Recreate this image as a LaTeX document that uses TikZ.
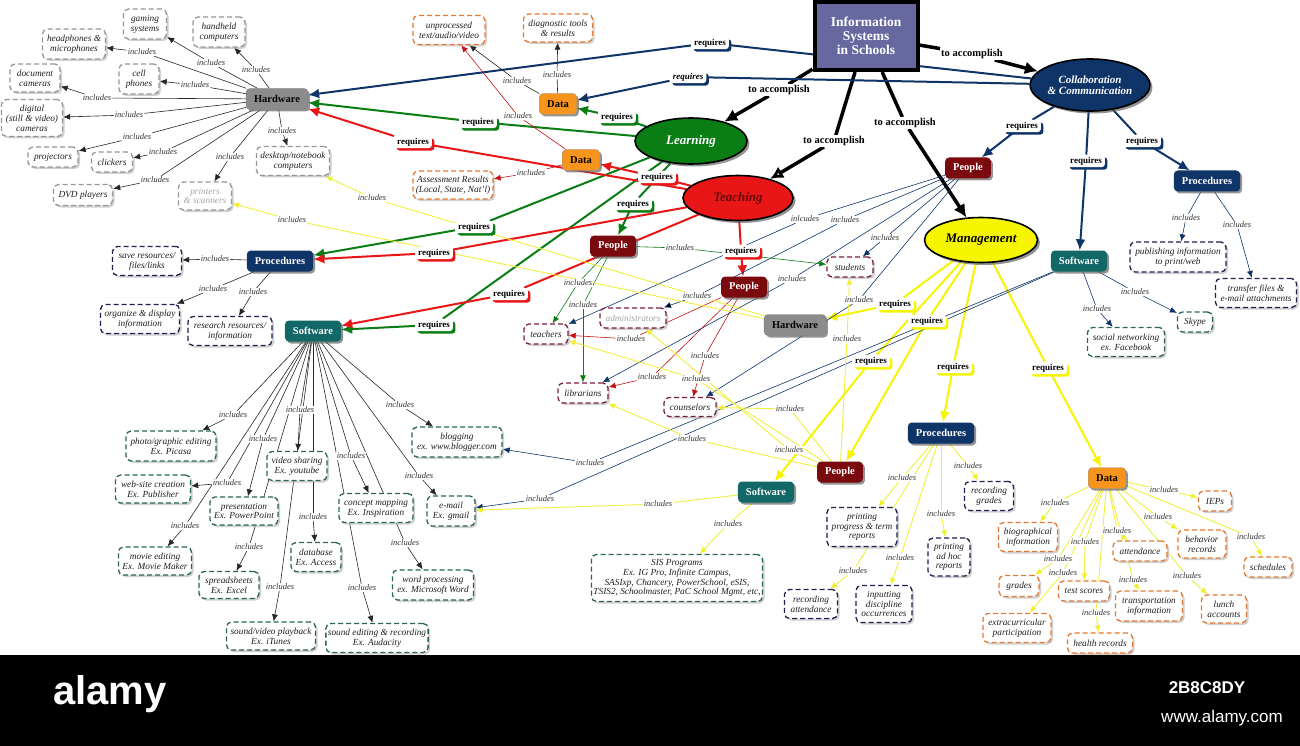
\documentclass[tikz,border=0pt]{standalone}
\usepackage{fontspec}
\setmainfont{Liberation Serif}
\setsansfont{Liberation Sans}
\usetikzlibrary{shapes.geometric,shadows,arrows.meta}
\pgfdeclarelayer{bg}
\pgfsetlayers{bg,main}
\definecolor{cnavy}{RGB}{14,52,104}
\definecolor{cmain}{RGB}{104,104,160}
\definecolor{cpeople}{RGB}{122,10,14}
\definecolor{cteal}{RGB}{18,104,102}
\definecolor{chw}{RGB}{140,140,140}
\definecolor{cdata}{RGB}{247,148,29}
\definecolor{cgreen}{RGB}{10,125,20}
\definecolor{cred}{RGB}{232,22,22}
\definecolor{cyel}{RGB}{245,245,0}
\definecolor{cyelt}{RGB}{240,240,60}
\definecolor{lgray}{RGB}{150,150,150}
\definecolor{lorange}{RGB}{226,120,50}
\definecolor{lnavy}{RGB}{30,32,80}
\definecolor{lteal}{RGB}{40,100,88}
\definecolor{lmar}{RGB}{120,30,60}
\newcommand\fsz[2]{\fontsize{#1}{#2}\selectfont}
\newcounter{lk}
\newcommand\lnk[7]{%
  \stepcounter{lk}%
  \node[#2] (L\thelk) at (#4,#5) {#7};%
  \begin{pgfonlayer}{bg}%
    \draw[#1,-] (#3) -- (L\thelk);%
    \draw[#1] (L\thelk) -- (#6);%
  \end{pgfonlayer}}
\newcommand\lf[7]{\node[leaf,#6,minimum width=#4,minimum height=#5] (#1) at (#2,#3) {#7};}
\tikzset{
  il/.style={fill=white, inner sep=1pt, font=\fsz{8.5}{9}\itshape, text=black!80},
  rq/.style={fill=white, rounded corners=3pt, inner xsep=3pt, inner ysep=2pt, font=\fsz{9}{10}\bfseries, text=black},
  rqn/.style={rq, general shadow={fill=cnavy, shadow xshift=2.5pt, shadow yshift=-2.5pt}},
  rqg/.style={rq, general shadow={fill=cgreen, shadow xshift=2.5pt, shadow yshift=-2.5pt}},
  rqr/.style={rq, general shadow={fill=cred, shadow xshift=2.5pt, shadow yshift=-2.5pt}},
  rqy/.style={rq, general shadow={fill=cyel, shadow xshift=2.5pt, shadow yshift=-2.5pt}},
  acl/.style={fill=white, inner sep=1pt, font=\fsz{10.5}{11}\bfseries, text=black},
  lblk/.style={draw=black!85, line width=0.6pt, -{Latex[length=7pt,width=6pt]}},
  lnav/.style={draw=cnavy, line width=0.6pt, -{Latex[length=7pt,width=6pt]}},
  lred/.style={draw=cred!85!black, line width=0.6pt, -{Latex[length=7pt,width=6pt]}},
  lgrn/.style={draw=cgreen, line width=0.6pt, -{Latex[length=7pt,width=6pt]}},
  lyel/.style={draw=cyelt, line width=0.9pt, -{Latex[length=7pt,width=6pt,fill=cyel]}},
  rnav/.style={draw=cnavy, line width=2pt, -{Latex[length=11pt,width=10pt]}},
  rgrn/.style={draw=cgreen, line width=2pt, -{Latex[length=11pt,width=10pt]}},
  rred/.style={draw=cred, line width=2pt, -{Latex[length=11pt,width=10pt]}},
  ryel/.style={draw=cyel, line width=2pt, -{Latex[length=11pt,width=10pt]}},
  lacc/.style={draw=black, line width=3.5pt, -{Latex[length=13pt,width=13pt]}},
  laccg/.style={lacc, -{Latex[length=13pt,width=13pt,fill=black!35]}},
  cat/.style={rounded corners=4pt, minimum height=21pt, inner xsep=8pt, inner ysep=2pt,
    font=\fsz{10.5}{11}\bfseries, drop shadow={shadow xshift=2pt, shadow yshift=-2pt, fill=black!60, opacity=.7}},
  cathw/.style={cat, fill=chw, text=black, draw=black!50, line width=.4pt},
  catdata/.style={cat, fill=cdata, text=black, draw=black!40, line width=.4pt},
  catnav/.style={cat, fill=cnavy, text=white},
  catteal/.style={cat, fill=cteal, text=white},
  catppl/.style={cat, fill=cpeople, text=white},
  ell/.style={ellipse, draw=black, line width=1.6pt, inner sep=0pt, align=center,
    drop shadow={shadow xshift=2.5pt, shadow yshift=-2.5pt, fill=black!60, opacity=.7}},
  leaf/.style={rounded corners=5pt, draw, dash pattern=on 5pt off 3pt, line width=1.3pt, fill=white,
    align=center, inner sep=2pt, font=\fsz{9.3}{9.9}\itshape, text=black!88,
    drop shadow={shadow xshift=2pt, shadow yshift=-2pt, fill=black!30, opacity=.6}},
  lfg/.style={draw=lgray},
  lfo/.style={draw=lorange},
  lfn/.style={draw=lnavy},
  lft/.style={draw=lteal},
  lfm/.style={draw=lmar},
  fade/.style={text=black!35}
}
\begin{document}
\begin{tikzpicture}[x=1pt,y=-1pt]
\useasboundingbox (0,0) rectangle (1300,746);
\begin{pgfonlayer}{bg}
\fill[white] (0,0) rectangle (1300,655);
\end{pgfonlayer}

% ---------- main concepts ----------
\node[draw=black, line width=4pt, fill=cmain, minimum width=103, minimum height=68, text=white,
  font=\fsz{13.5}{14}\bfseries, align=center] (main) at (866,36) {Information\\Systems\\in Schools};
\node[ell, fill=cnavy, text=white, minimum width=110, minimum height=52, font=\fsz{11}{11.5}\bfseries\itshape]
  (collab) at (1090,85) {Collaboration\\\& Communication};
\node[ell, fill=cgreen, text=white, minimum width=112, minimum height=46, font=\fsz{13}{14}\bfseries\itshape]
  (learn) at (691,141) {Learning};
\node[ell, fill=cred, text={rgb,255:red,100;green,10;blue,10}, minimum width=110, minimum height=45, font=\fsz{13}{14}\bfseries\itshape]
  (teach) at (738,198) {Teaching};
\node[ell, fill=cyel, text=black, minimum width=113, minimum height=45, font=\fsz{13}{14}\bfseries\itshape]
  (manage) at (981,240) {Management};

% ---------- category boxes ----------
\node[cathw] (hwL) at (277,99) {Hardware};
\node[catdata] (dataT) at (558,104) {Data};
\node[catdata] (dataM) at (581,160) {Data};
\node[catnav] (procL) at (280,261) {Procedures};
\node[catteal] (softL) at (313,331) {Software};
\node[catppl] (peopleM) at (613,246) {People};
\node[catppl] (peopleT) at (744,287) {People};
\node[catppl] (peopleC) at (968,168) {People};
\node[catnav] (procC) at (1207,181) {Procedures};
\node[catteal] (softC) at (1079,261) {Software};
\node[cathw] (hwM) at (795,325) {Hardware};
\node[catnav] (procB) at (941,433) {Procedures};
\node[catppl] (peopleB) at (840,472) {People};
\node[catteal] (softB) at (766,492) {Software};
\node[catdata] (dataB) at (1107,478) {Data};

% ---------- leaves: hardware ----------
\lf{hp}{74}{44}{63}{30}{lfg}{headphones \&\\microphones}
\lf{gs}{145}{24}{43}{30}{lfg}{gaming\\systems}
\lf{hh}{219}{32}{52}{30}{lfg}{handheld\\computers}
\lf{dc}{35}{78}{50}{28}{lfg}{document\\cameras}
\lf{cp}{139}{79}{40}{30}{lfg}{cell\\phones}
\lf{dg}{32}{118}{61}{37}{lfg}{digital\\(still \& video)\\cameras}
\lf{pj}{53}{157}{50}{20}{lfg}{projectors}
\lf{ck}{112}{162}{41}{20}{lfg}{clickers}
\lf{dvd}{83}{195}{59}{21}{lfg}{DVD players}
\lf{ps}{205}{196}{53}{28}{lfg,fade}{printers\\\& scanners}
\lf{dn}{293}{161}{73}{29}{lfg}{desktop/notebook\\computers}
% data
\lf{un}{449}{30}{72}{29}{lfo}{unprocessed\\text/audio/video}
\lf{dt}{558}{28}{69}{28}{lfo}{diagnostic tools\\\& results}
\lf{ar}{453}{185}{80}{28}{lfo}{Assessment Results\\(Local, State, Nat'l)}
% procedures left
\lf{sv}{147}{261}{69}{29}{lfn}{save resources/\\files/links}
\lf{od}{140}{319}{79}{29}{lfn}{organize \& display\\information}
\lf{rr}{230}{331}{84}{29}{lfn}{research resources/\\information}
% software left
\lf{pg}{171}{446}{90}{30}{lft}{photo/graphic editing\\Ex. Picasa}
\lf{bl}{457}{442}{90}{30}{lft}{blogging\\ex. www.blogger.com}
\lf{vs}{297}{466}{60}{29}{lft}{video sharing\\Ex. youtube}
\lf{wc}{153}{489}{75}{28}{lft}{web-site creation\\Ex. Publisher}
\lf{pr}{244}{511}{68}{28}{lft}{presentation\\Ex. PowerPoint}
\lf{cm}{376}{508}{74}{29}{lft}{concept mapping\\Ex. Inspiration}
\lf{em}{451}{511}{48}{30}{lft}{e-mail\\Ex. gmail}
\lf{me}{155}{561}{73}{28}{lft}{movie editing\\Ex. Movie Maker}
\lf{db}{316}{557}{50}{29}{lft}{database\\Ex. Access}
\lf{ss}{229}{585}{60}{27}{lft}{spreadsheets\\Ex. Excel}
\lf{wp}{433}{585}{81}{30}{lft}{word processing\\ex. Microsoft Word}
\lf{svp}{271}{636}{89}{28}{lft}{sound/video playback\\Ex. iTunes}
\lf{se}{377}{638}{102}{29}{lft}{sound editing \& recording\\Ex. Audacity}
% people
\lf{te}{546}{334}{44}{20}{lfm}{teachers}
\lf{li}{583}{393}{50}{20}{lfm}{librarians}
\lf{ad}{633}{318}{66}{20}{lfm,fade}{administrators}
\lf{co}{690}{407}{52}{19}{lfm}{counselors}
\lf{st}{850}{267}{46}{20}{lfm}{students}
% collaboration
\lf{pu}{1178}{257}{96}{30}{lfn}{publishing information\\to print/web}
\lf{tf}{1256}{293}{81}{29}{lfn}{transfer files \&\\e-mail attachments}
\lf{sn}{1126}{342}{77}{29}{lft}{social networking\\ex. Facebook}
\lf{sk}{1195}{322}{35}{20}{lft}{Skype}
% management
\lf{sis}{677}{578}{164}{47}{lft}{SIS Programs\\Ex. IG Pro, Infinite Campus,\\SASIxp, Chancery, PowerSchool, eSIS,\\TSIS2, Schoolmaster, PaC School Mgmt, etc,}
\lf{pp}{862}{527}{70}{39}{lfn}{printing\\progress \& term\\reports}
\lf{ra}{811}{604}{53}{29}{lfn}{recording\\attendance}
\lf{id}{884}{604}{56}{37}{lfn}{inputting\\discipline\\occurrences}
\lf{ah}{949}{557}{42}{38}{lfn}{printing\\ad hoc\\reports}
\lf{rg}{989}{496}{49}{29}{lfn}{recording\\grades}
\lf{iep}{1215}{501}{33}{20}{lfo}{IEPs}
\lf{bio}{1028}{537}{59}{29}{lfo}{biographical\\information}
\lf{beh}{1202}{544}{48}{28}{lfo}{behavior\\records}
\lf{att}{1140}{551}{54}{20}{lfo}{attendance}
\lf{sch}{1268}{567}{48}{20}{lfo}{schedules}
\lf{gr}{1019}{586}{40}{21}{lfo}{grades}
\lf{ts}{1084}{591}{51}{20}{lfo}{test scores}
\lf{tr}{1149}{606}{67}{30}{lfo}{transportation\\information}
\lf{la}{1224}{609}{45}{28}{lfo}{lunch\\accounts}
\lf{ex}{1017}{628}{68}{29}{lfo}{extracurricular\\participation}
\lf{hr}{1100}{643}{65}{20}{lfo}{health records}

% ---------- to accomplish ----------
\lnk{lacc}{acl}{main}{779}{90}{learn}{to accomplish}
\lnk{laccg}{acl}{main}{834}{141}{teach}{to accomplish}
\lnk{lacc}{acl}{main}{905}{123}{manage}{to accomplish}
\lnk{lacc}{acl}{main}{972}{54}{collab}{to accomplish}

% ---------- requires ----------
\lnk{rnav}{rqn}{collab}{710}{43}{hwL}{requires}
\lnk{rnav}{rqn,font=\fsz{9}{10}\bfseries\itshape}{collab}{688}{77}{dataT}{requires}
\lnk{rgrn}{rqg}{learn}{478}{122}{hwL}{requires}
\lnk{rgrn}{rqg}{learn}{617}{117}{dataT}{requires}
\lnk{rgrn}{rqg}{learn}{474}{227}{procL}{requires}
\lnk{rgrn}{rqg}{learn}{434}{325}{softL}{requires}
\lnk{rgrn}{rqg}{learn}{633}{204}{peopleM}{requires}
\lnk{rred}{rqr}{teach}{413}{142}{hwL}{requires}
\lnk{rred}{rqr}{teach}{657}{177}{dataM}{requires}
\lnk{rred}{rqr}{teach}{434}{253}{procL}{requires}
\lnk{rred}{rqr}{teach}{509}{294}{softL}{requires}
\lnk{rred}{rqr}{teach}{741}{251}{peopleT}{requires}
\lnk{rnav}{rqn}{collab}{1022}{126}{peopleC}{requires}
\lnk{rnav}{rqn}{collab}{1086}{161}{softC}{requires}
\lnk{rnav}{rqn}{collab}{1142}{141}{procC}{requires}
\lnk{ryel}{rqy}{manage}{895}{304}{hwM}{requires}
\lnk{ryel}{rqy}{manage}{927}{321}{peopleB}{requires}
\lnk{ryel}{rqy}{manage}{871}{361}{softB}{requires}
\lnk{ryel}{rqy}{manage}{953}{367}{procB}{requires}
\lnk{ryel}{rqy}{manage}{1048}{368}{dataB}{requires}

% ---------- includes: hardware left ----------
\lnk{lblk}{il}{hwL}{142}{52}{hp}{includes}
\lnk{lblk}{il}{hwL}{211}{63}{gs}{includes}
\lnk{lblk}{il}{hwL}{256}{70}{hh}{includes}
\lnk{lblk}{il}{hwL}{195}{85}{cp}{includes}
\lnk{lblk}{il}{hwL}{97}{98}{dc}{includes}
\lnk{lblk}{il}{hwL}{129}{115}{dg}{includes}
\lnk{lblk}{il}{hwL}{137}{137}{pj}{includes}
\lnk{lblk}{il}{hwL}{163}{152}{ck}{includes}
\lnk{lblk}{il}{hwL}{155}{180}{dvd}{includes}
\lnk{lblk}{il}{hwL}{230}{157}{ps}{includes}
\lnk{lblk}{il}{hwL}{282}{131}{dn}{includes}
% data
\lnk{lblk}{il}{dataT}{517}{81}{un}{includes}
\lnk{lblk}{il}{dataT}{557}{75}{dt}{includes}
\lnk{lred}{il}{dataM}{518}{116}{un}{includes}
\lnk{lred}{il}{dataM}{531}{173}{ar}{includes}
% procedures left
\lnk{lblk}{il}{procL}{215}{259}{sv}{includes}
\lnk{lblk}{il}{procL}{213}{289}{od}{includes}
\lnk{lblk}{il}{procL}{253}{292}{rr}{includes}
% software left
\lnk{lblk}{il}{softL}{233}{415}{pg}{includes}
\lnk{lblk}{il}{softL}{400}{405}{bl}{includes}
\lnk{lblk}{il}{softL}{300}{410}{vs}{includes}
\lnk{lblk}{il}{softL}{227}{483}{wc}{includes}
\lnk{lblk}{il}{softL}{263}{439}{pr}{includes}
\lnk{lblk}{il}{softL}{351}{456}{cm}{includes}
\lnk{lblk}{il}{softL}{419}{476}{em}{includes}
\lnk{lblk}{il}{softL}{185}{526}{me}{includes}
\lnk{lblk}{il}{softL}{313}{517}{db}{includes}
\lnk{lblk}{il}{softL}{249}{547}{ss}{includes}
\lnk{lblk}{il}{softL}{405}{543}{wp}{includes}
\lnk{lblk}{il}{softL}{280}{587}{svp}{includes}
\lnk{lblk}{il}{softL}{362}{588}{se}{includes}
% collaboration
\lnk{lnav}{il}{procC}{1186}{218}{pu}{includes}
\lnk{lnav}{il}{procC}{1237}{225}{tf}{includes}
\lnk{lnav}{il}{softC}{1097}{309}{sn}{includes}
\lnk{lnav}{il}{softC}{1135}{292}{sk}{includes}
\lnk{lnav}{il}{softC}{590}{463}{bl}{includes}
\lnk{lnav}{il}{softC}{540}{499}{em}{includes}
\lnk{lnav}{il}{peopleC}{805}{219}{te}{inlcudes}
\lnk{lnav}{il}{peopleC}{885}{238}{st}{includes}
\lnk{lnav}{il}{peopleC}{792}{279}{li}{includes}
\lnk{lnav}{il}{peopleC}{859}{300}{co}{includes}
\node[il] (pcb) at (845,220) {includes};
\node[il] (pce) at (697,296) {includes};
\begin{pgfonlayer}{bg}
\draw[lnav,-] (peopleC) -- (pcb);
\draw[lnav,-] (pcb) -- (pce);
\draw[lnav,-{Latex[length=7pt,width=6pt,fill=black]}] (pce) -- (ad);
\end{pgfonlayer}
% teaching people
\lnk{lred}{il}{peopleT}{631}{339}{te}{includes}
\lnk{lred}{il}{peopleT}{652}{377}{li}{includes}
\lnk{lred}{il}{peopleT}{705}{356}{co}{includes}
% learning people
\lnk{lgrn}{il}{peopleM}{680}{248}{st}{includes}
\lnk{lgrn}{il}{peopleM}{578}{283}{te}{includes}
\lnk{lgrn}{il}{peopleM}{583}{305}{li}{includes}
% management people
\lnk{lyel}{il}{peopleB}{847}{339}{st}{includes}
\lnk{lyel}{il}{peopleB}{790}{409}{co}{includes}
\lnk{lyel}{il}{peopleB}{696}{379}{te}{includes}
\lnk{lyel}{il}{peopleB}{692}{439}{li}{includes}
\lnk{lyel}{il}{peopleB}{789}{450}{ad}{includes}
% management hardware
\lnk{lyel}{il}{hwM}{292}{220}{ps}{includes}
\lnk{lyel}{il}{hwM}{372}{198}{dn}{includes}
% management software
\lnk{lyel}{il}{softB}{728}{524}{sis}{includes}
\lnk{lyel}{il}{softB}{658}{504}{em}{includes}
% management procedures
\lnk{lyel}{il}{procB}{902}{478}{pp}{includes}
\lnk{lyel}{il}{procB}{853}{571}{ra}{includes}
\lnk{lyel}{il}{procB}{900}{558}{id}{includes}
\lnk{lyel}{il}{procB}{941}{514}{ah}{includes}
\lnk{lyel}{il}{procB}{968}{466}{rg}{includes}
% management data
\lnk{lyel}{il}{dataB}{1164}{490}{iep}{includes}
\lnk{lyel}{il}{dataB}{1055}{503}{bio}{includes}
\lnk{lyel}{il}{dataB}{1117}{531}{att}{includes}
\lnk{lyel}{il}{dataB}{1158}{517}{beh}{includes}
\lnk{lyel}{il}{dataB}{1251}{537}{sch}{includes}
\lnk{lyel}{il}{dataB}{1058}{559}{gr}{includes}
\lnk{lyel}{il}{dataB}{1085}{542}{ts}{includes}
\lnk{lyel}{il}{dataB}{1133}{580}{tr}{includes}
\lnk{lyel}{il}{dataB}{1187}{576}{la}{includes}
\lnk{lyel}{il}{dataB}{1063}{573}{ex}{includes}
\lnk{lyel}{il}{dataB}{1096}{613}{hr}{includes}

% ---------- watermark band ----------
\fill[black] (0,655) rectangle (1300,746);
\node[text=white, font=\sffamily\bfseries\fsz{40}{40}] (wm) at (110,694) {alamy};
\node[text=white, font=\sffamily\bfseries\fsz{17}{17}] (wmid) at (1207,688) {2B8C8DY};
\node[text=white, font=\sffamily\fsz{17}{17}] (wurl) at (1222,718) {www.alamy.com};
\end{tikzpicture}
\end{document}
